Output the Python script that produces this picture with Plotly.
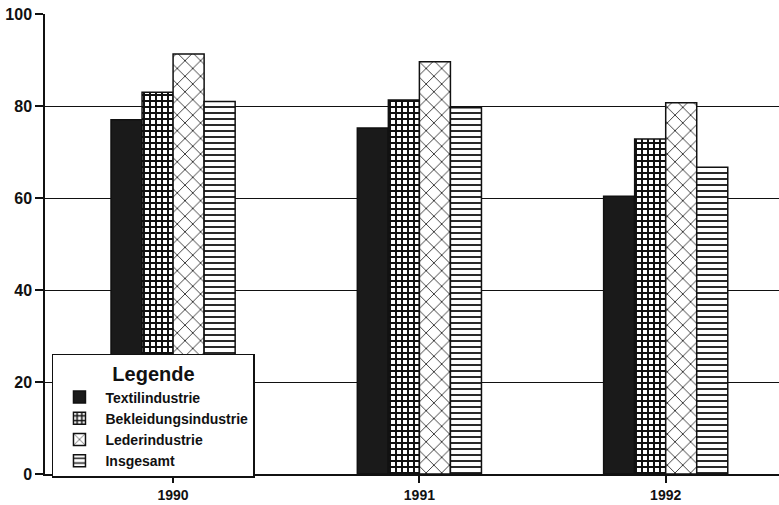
import plotly.graph_objects as go

years = ["1990", "1991", "1992"]
series_names = ["Textilindustrie", "Bekleidungsindustrie", "Lederindustrie", "Insgesamt"]
textil = [77, 75.2, 60.4]
bekleidung = [83, 81.3, 72.8]
leder = [91.3, 89.6, 80.7]
insgesamt = [81, 79.6, 66.7]
y_ticks = [0, 20, 40, 60, 80, 100]

values = [textil, bekleidung, leder, insgesamt]
patterns = [
    dict(shape="", fillmode="replace"),
    dict(shape="+", fgcolor="#111", bgcolor="white", size=6, solidity=0.55, fillmode="replace"),
    dict(shape="x", fgcolor="#222", bgcolor="white", size=11, solidity=0.15, fillmode="replace"),
    dict(shape="-", fgcolor="#111", bgcolor="white", size=6, solidity=0.3, fillmode="replace"),
]
colors = ["#1a1a1a", "white", "white", "white"]

FONT = "Liberation Sans, Arial"

fig = go.Figure()
x_idx = list(range(len(years)))
for name, vals, pat, col in zip(series_names, values, patterns, colors):
    fig.add_trace(go.Bar(
        x=x_idx, y=vals, name=name,
        marker=dict(color=col, pattern=pat, line=dict(color="#111", width=1.5)),
    ))

fig.update_layout(
    width=779, height=505,
    margin=dict(l=45, r=0, t=14, b=31),
    paper_bgcolor="white", plot_bgcolor="white",
    barmode="group", bargap=0.496, bargroupgap=0,
    font=dict(family=FONT, color="#111"),
    showlegend=True,
    legend=dict(
        x=0.0095, y=0.261, xanchor="left", yanchor="top",
        bgcolor="white", bordercolor="#111", borderwidth=1.5,
        font=dict(size=14, family=FONT, color="#111", weight="bold"),
        title=dict(text="Legende", side="top center",
                   font=dict(size=20, family=FONT, color="#111", weight="bold")),
        tracegroupgap=0, itemwidth=42,
    ),
    xaxis=dict(
        tickmode="array", tickvals=x_idx, ticktext=years,
        range=[-0.52, 2.46],
        showgrid=False, showline=True, linecolor="#111", linewidth=1.5,
        ticks="outside", ticklen=7, tickwidth=1.5, tickcolor="#111",
        tickfont=dict(size=14, family=FONT, color="#111", weight="bold"),
        zeroline=False, automargin=False,
    ),
    yaxis=dict(
        range=[0, 100], tickvals=y_ticks,
        showgrid=True, gridcolor="#111", gridwidth=1.3,
        showline=True, linecolor="#111", linewidth=1.5,
        ticks="outside", ticklen=8, tickwidth=1.5, tickcolor="#111",
        tickfont=dict(size=16, family=FONT, color="#111", weight="bold"),
        zeroline=False, automargin=False,
    ),
)

fig.write_html("out.html", config={"displayModeBar": False},
               post_script="document.body.style.margin='0';document.body.style.padding='0';")
